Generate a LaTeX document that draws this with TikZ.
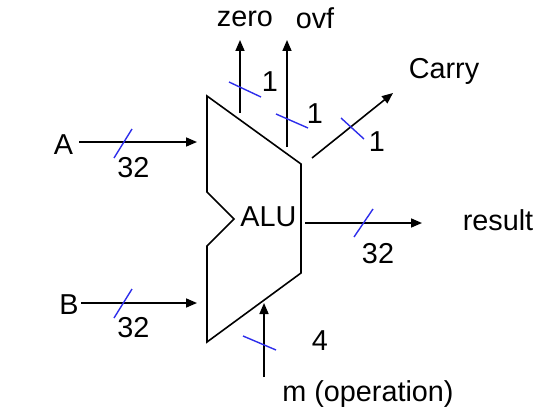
\documentclass[tikz,border=0pt]{standalone}
\usepackage{fontspec}
\setmainfont{Liberation Sans}
\usetikzlibrary{arrows.meta}
\definecolor{busblue}{RGB}{45,45,235}
\tikzset{
  wire/.style={line width=1.6pt, -{Triangle[length=11pt,width=9pt]}},
  buswidth/.style={busblue, line width=1.4pt},
  lbl/.style={inner sep=0pt, font=\fontsize{28.8}{32}\selectfont},
}
\begin{document}
\begin{tikzpicture}[x=1pt,y=-1pt]
    \useasboundingbox (0,0) rectangle (553,417);

    % ALU body
    \draw[line width=1.6pt, line join=miter] (207,96) -- (301,164) -- (301,273) -- (207,342)
        -- (207,246) -- (234,219) -- (207,192) -- cycle;
    \node[lbl] (alu) at (268.5,216.5) {ALU};

    % labels
    \node[lbl] (A) at (63.5,145) {A};
    \node[lbl] (B) at (69,305) {B};
    \node[lbl] (zero) at (245,19) {zero};
    \node[lbl] (ovf) at (315,18) {ovf};
    \node[lbl] (carry) at (444,71) {Carry};
    \node[lbl] (res) at (498,220) {result};
    \node[lbl] (op) at (368,394) {m (operation)};

    % wire ends
    \coordinate (aT) at (79,142);   \coordinate (aH) at (197,142);
    \coordinate (bT) at (81,303);   \coordinate (bH) at (197,303);
    \coordinate (rT) at (305,223);  \coordinate (rH) at (422,223);
    \coordinate (mT) at (264,377);  \coordinate (mH) at (264,303);
    \coordinate (zT) at (240,113);  \coordinate (zH) at (240,40);
    \coordinate (oT) at (287,147);  \coordinate (oH) at (287,40);
    \coordinate (cT) at (312,158);  \coordinate (cH) at (393,93);

    % inputs
    \draw[wire] (aT) -- (aH);
    \draw[buswidth] (114,158) -- (132,129);
    \node[lbl] (wa) at (133.5,168) {32};
    \draw[wire] (bT) -- (bH);
    \draw[buswidth] (114,318) -- (132,289);
    \node[lbl] (wb) at (133.5,328) {32};
    \draw[wire] (mT) -- (mH);
    \draw[buswidth] (243,336) -- (276,350);
    \node[lbl] (wm) at (320,341) {4};

    % outputs
    \draw[wire] (rT) -- (rH);
    \draw[buswidth] (354,237) -- (373,209);
    \node[lbl] (wr) at (378,254) {32};
    \draw[wire] (zT) -- (zH);
    \draw[buswidth] (229,82) -- (261,97);
    \node[lbl] (wz) at (270,82) {1};
    \draw[wire] (oT) -- (oH);
    \draw[buswidth] (276,114) -- (308,128);
    \node[lbl] (wo) at (315,114) {1};
    \draw[wire] (cT) -- (cH);
    \draw[buswidth] (341,118) -- (364,139);
    \node[lbl] (wc) at (377,142) {1};
\end{tikzpicture}
\end{document}
